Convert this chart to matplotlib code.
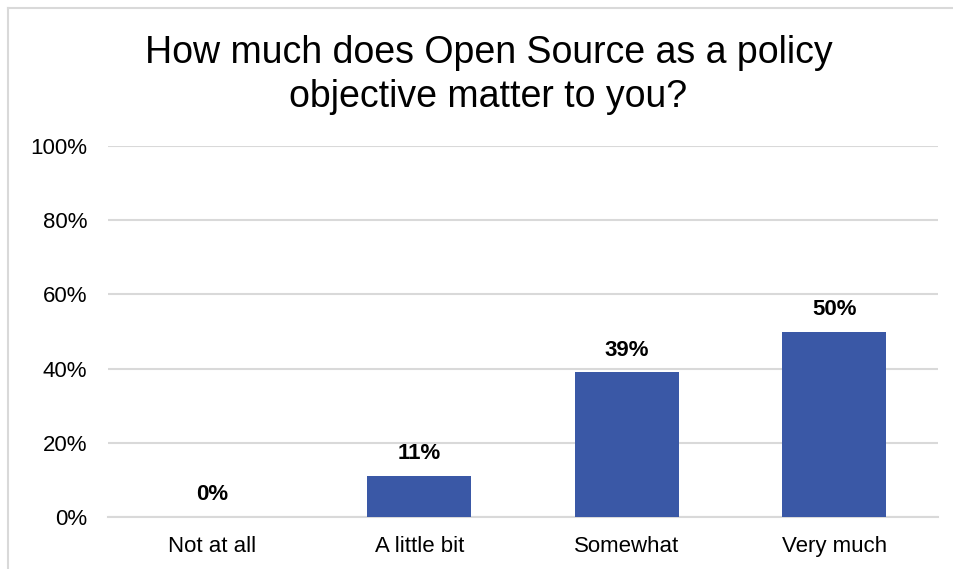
import matplotlib.pyplot as plt
from matplotlib.lines import Line2D

categories = ['Not at all', 'A little bit', 'Somewhat', 'Very much']
shares = [0.00, 0.11, 0.39, 0.50]
yticks = [0.0, 0.2, 0.4, 0.6, 0.8, 1.0]
ytick_labels = ['0%', '20%', '40%', '60%', '80%', '100%']
title = 'How much does Open Source as a policy\nobjective matter to you?'

plt.rcParams['font.family'] = ['Liberation Sans', 'DejaVu Sans']

barColor = '#3A58A6'
gridColor = '#D9D9D9'

fig = plt.figure(figsize=(9.54, 5.69), dpi=100)
ax = fig.add_axes([108/954, 52/569, 830/954, 371/569])

x = range(len(categories))
ax.bar(x, shares, width=0.5, color=barColor, zorder=3)

for xi, v in zip(x, shares):
    ax.annotate('%d%%' % round(v*100), (xi, v), xytext=(0, 16),
                textcoords='offset points', ha='center', va='center',
                fontsize=16, fontweight='bold', color='#000000')

ax.set_xlim(-0.5, len(categories) - 0.5)
ax.set_ylim(0, 1.0)
ax.set_yticks(yticks)
ax.set_yticklabels(ytick_labels)
ax.set_xticks(list(x))
ax.set_xticklabels(categories)
ax.tick_params(axis='y', length=0, pad=15, labelsize=16, labelcolor='#000000')
ax.tick_params(axis='x', length=0, pad=14, labelsize=16, labelcolor='#000000')

ax.grid(axis='y', color=gridColor, linewidth=1.5, zorder=0)
for s in ['top', 'right', 'left']:
    ax.spines[s].set_visible(False)
ax.spines['bottom'].set_color(gridColor)
ax.spines['bottom'].set_linewidth(1.5)

fig.text(488.5/954, 1 - 75/569, title, ha='center', va='center', fontsize=27,
         linespacing=1.27, color='#000000')

# outer chart frame (top and left edges show)
fig.add_artist(Line2D([8/954, 1.0], [1 - 7.5/569, 1 - 7.5/569],
                      transform=fig.transFigure, color=gridColor, linewidth=1.5))
fig.add_artist(Line2D([8.5/954, 8.5/954], [0, 1 - 7.5/569],
                      transform=fig.transFigure, color=gridColor, linewidth=1.5))

fig.savefig('out.png', dpi=100)
